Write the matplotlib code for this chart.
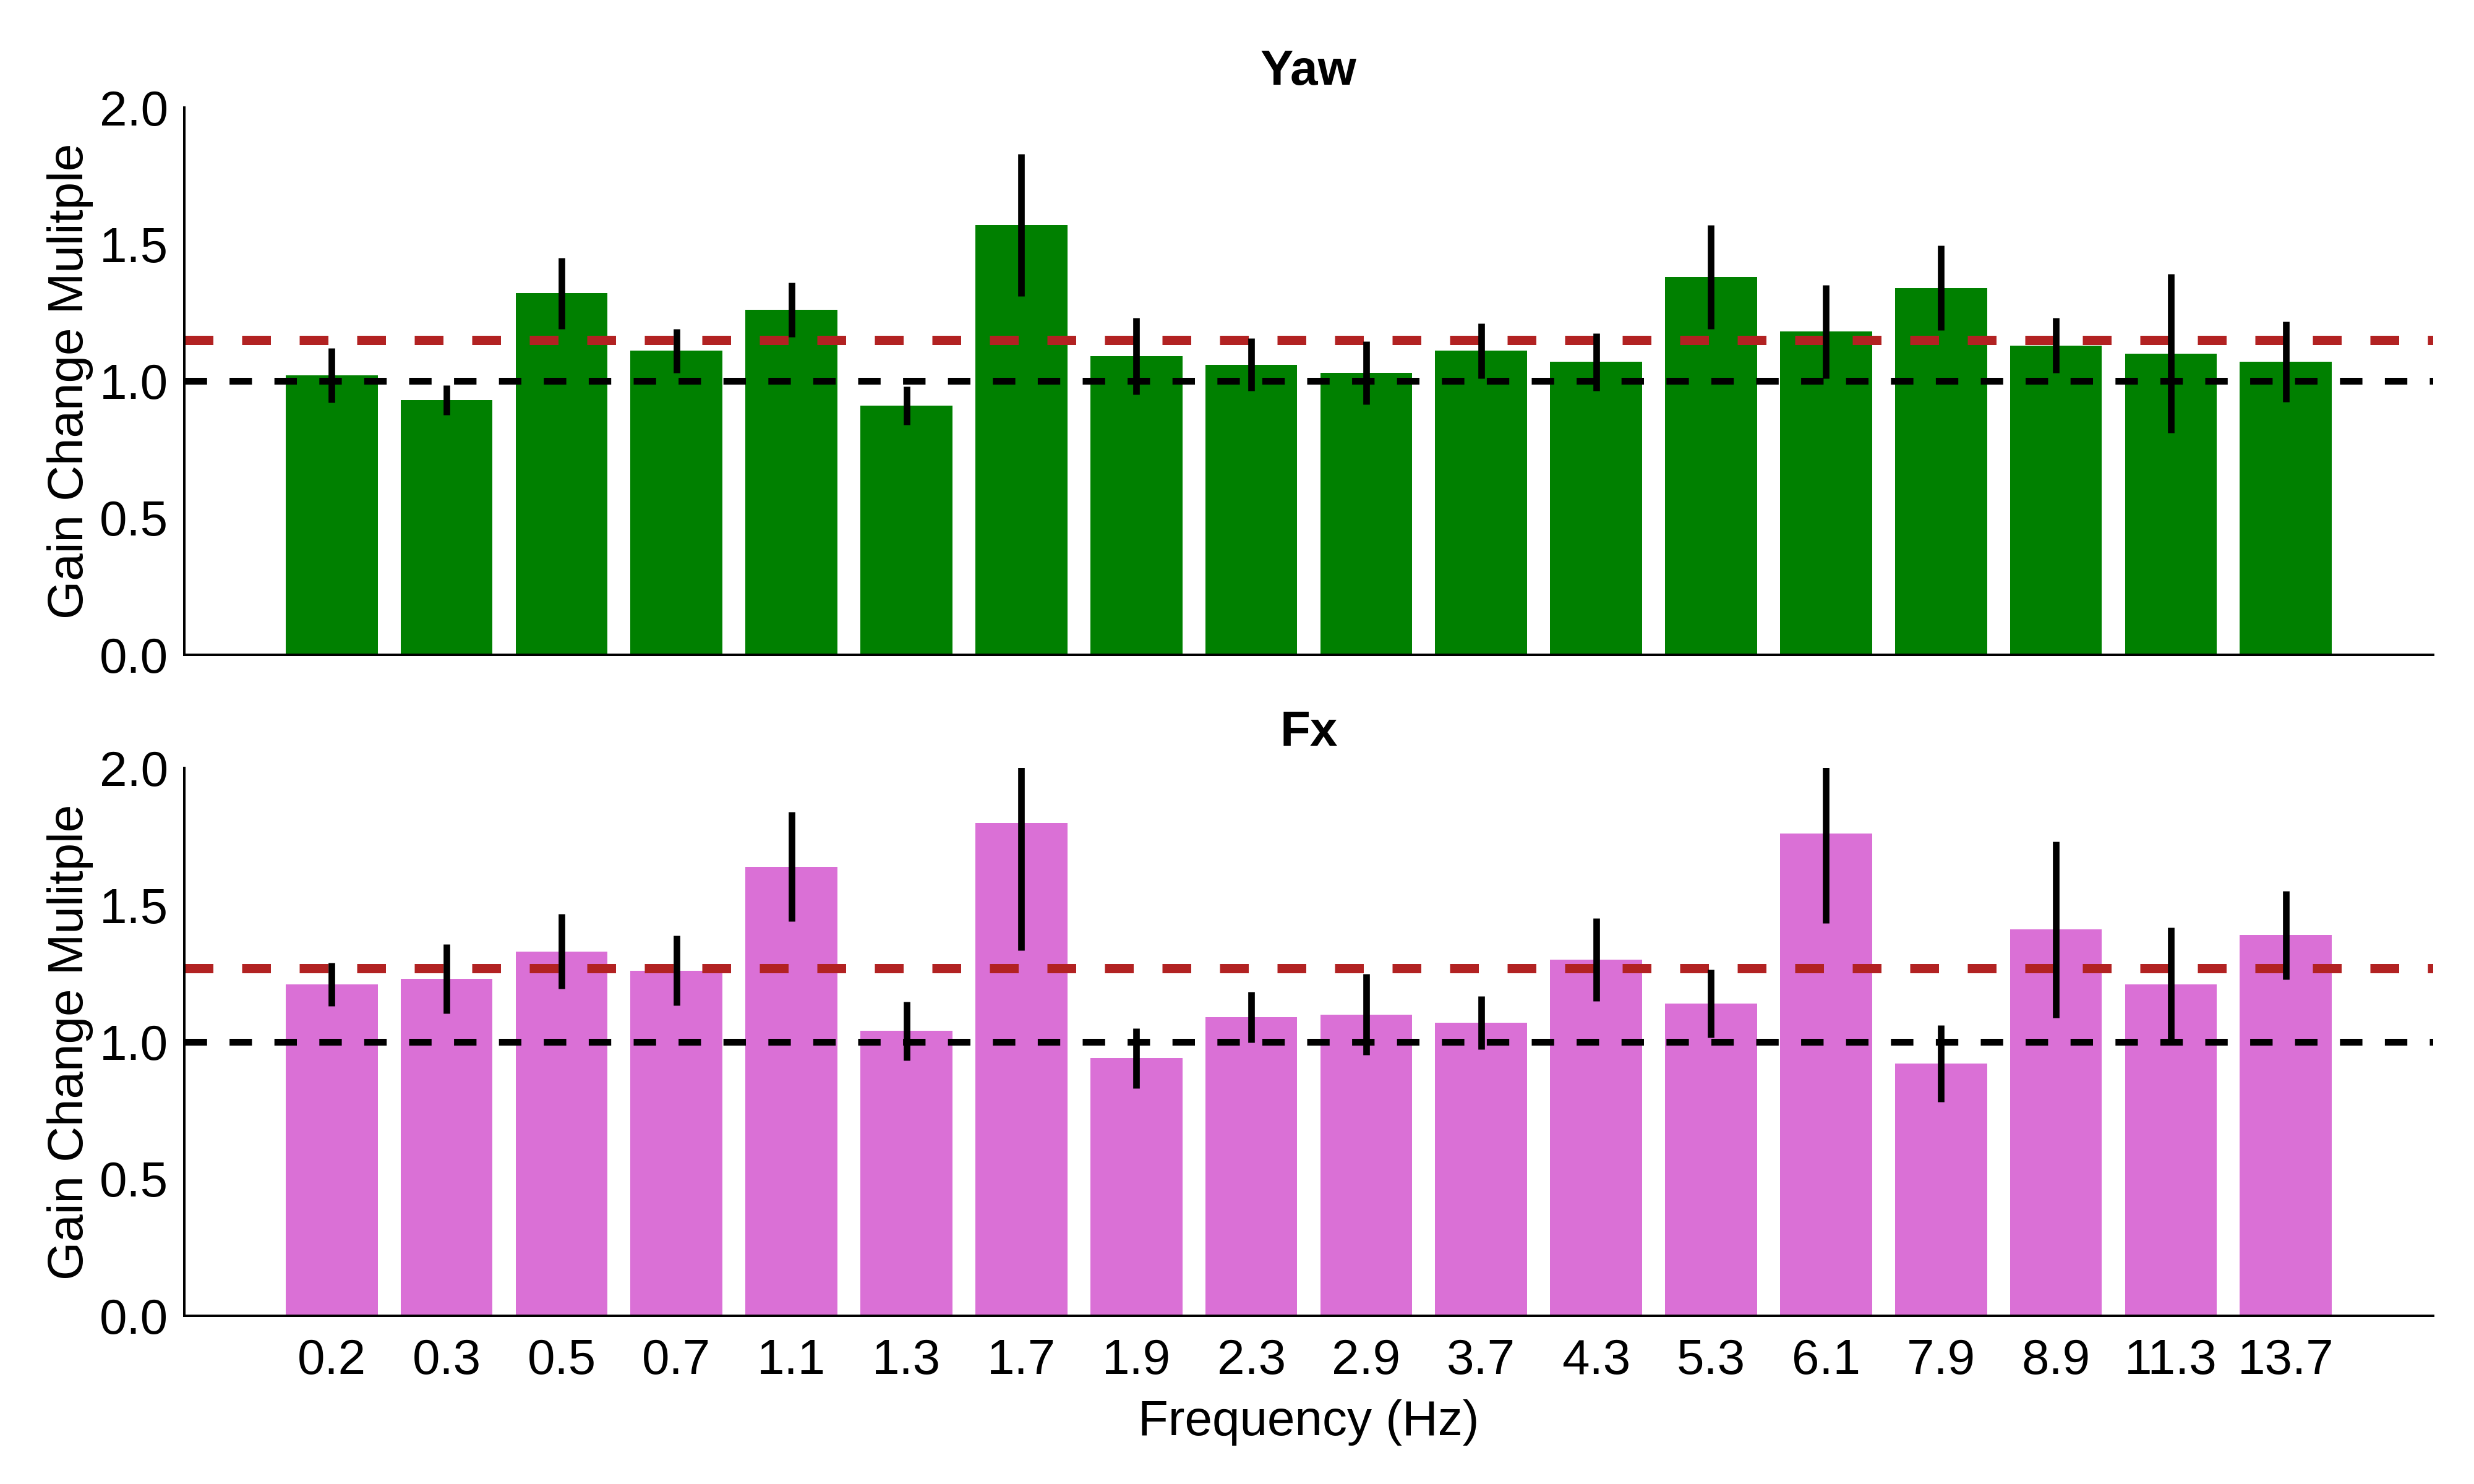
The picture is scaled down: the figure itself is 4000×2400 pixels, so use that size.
import matplotlib.pyplot as plt
import numpy as np

# --- data ---
freqs = ["0.2", "0.3", "0.5", "0.7", "1.1", "1.3", "1.7", "1.9", "2.3",
         "2.9", "3.7", "4.3", "5.3", "6.1", "7.9", "8.9", "11.3", "13.7"]

yaw_gain = [1.02, 0.93, 1.32, 1.11, 1.26, 0.91, 1.57, 1.09, 1.06,
            1.03, 1.11, 1.07, 1.38, 1.18, 1.34, 1.13, 1.10, 1.07]
yaw_err = [0.10, 0.055, 0.13, 0.08, 0.10, 0.07, 0.26, 0.14, 0.095,
           0.115, 0.10, 0.105, 0.19, 0.17, 0.155, 0.10, 0.29, 0.147]

fx_gain = [1.21, 1.23, 1.33, 1.26, 1.64, 1.04, 1.80, 0.94, 1.09,
           1.10, 1.07, 1.30, 1.14, 1.76, 0.92, 1.41, 1.21, 1.39]
fx_err = [0.08, 0.126, 0.137, 0.128, 0.20, 0.107, 0.466, 0.11, 0.093,
          0.148, 0.098, 0.152, 0.125, 0.327, 0.14, 0.321, 0.208, 0.161]

plt.rcParams['font.family'] = ['Liberation Sans', 'DejaVu Sans']

fig = plt.figure(figsize=(4000 / 240, 10), dpi=240)
ax_top = fig.add_axes([0.0746, 0.5589, 0.9088, 0.3688])
ax_bot = fig.add_axes([0.0746, 0.1135, 0.9088, 0.3689])

x = np.arange(len(freqs))
FS = 24


def draw_panel(ax, gain, err, color, title):
    ax.bar(x, gain, width=0.8, color=color, zorder=1)
    ax.errorbar(x, gain, yerr=err, fmt='none', ecolor='black',
                elinewidth=3.2, capsize=0, zorder=3)
    ax.axhline(1.0, color='black', lw=3.3, dashes=(3.3, 3.3), zorder=2)
    ax.axhline(np.mean(gain), color='firebrick', lw=4.5, dashes=(3.1, 3.1), zorder=2)
    ax.set_ylim(0, 2.0)
    ax.set_xlim(-1.28, 18.28)
    ax.set_yticks([0.0, 0.5, 1.0, 1.5, 2.0])
    ax.set_yticklabels(["0.0", "0.5", "1.0", "1.5", "2.0"])
    ax.spines['top'].set_visible(False)
    ax.spines['right'].set_visible(False)
    ax.spines['left'].set_linewidth(1.2)
    ax.spines['bottom'].set_linewidth(1.2)
    ax.tick_params(length=0, labelsize=FS, pad=8)
    ax.set_ylabel("Gain Change Mulitple", fontsize=FS, labelpad=3)
    ax.set_title(title, fontsize=FS, fontweight='bold', pad=11)


draw_panel(ax_top, yaw_gain, yaw_err, 'green', 'Yaw')
draw_panel(ax_bot, fx_gain, fx_err, 'orchid', 'Fx')

ax_top.set_xticks([])
ax_bot.set_xticks(x)
ax_bot.set_xticklabels(freqs)
ax_bot.tick_params(axis='x', pad=11)
ax_bot.set_xlabel("Frequency (Hz)", fontsize=FS, labelpad=7)

fig.savefig("out.png", dpi=240)
